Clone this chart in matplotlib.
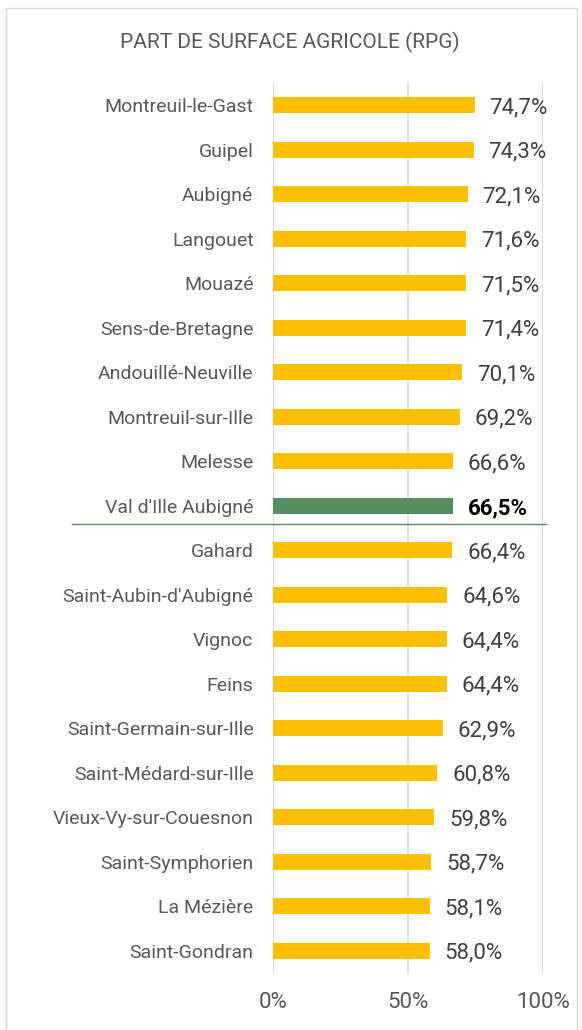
import matplotlib.pyplot as plt
from matplotlib.patches import Rectangle
from matplotlib.lines import Line2D

plt.rcParams['font.family'] = ['Roboto', 'DejaVu Sans']

communes = ["Montreuil-le-Gast", "Guipel", "Aubigné", "Langouet", "Mouazé",
            "Sens-de-Bretagne", "Andouillé-Neuville", "Montreuil-sur-Ille",
            "Melesse", "Val d'Ille Aubigné", "Gahard", "Saint-Aubin-d'Aubigné",
            "Vignoc", "Feins", "Saint-Germain-sur-Ille", "Saint-Médard-sur-Ille",
            "Vieux-Vy-sur-Couesnon", "Saint-Symphorien", "La Mézière", "Saint-Gondran"]
parts = [74.7, 74.3, 72.1, 71.6, 71.5, 71.4, 70.1, 69.2, 66.6, 66.5,
         66.4, 64.6, 64.4, 64.4, 62.9, 60.8, 59.8, 58.7, 58.1, 58.0]
highlight = "Val d'Ille Aubigné"

W, H = 582, 1030
fig = plt.figure(figsize=(W / 100, H / 100), dpi=100)
ax = fig.add_axes([273 / W, 1 - 973 / H, 270 / W, 890 / H])

ypos = list(range(len(communes)))
colors = ['#568F5F' if c == highlight else '#FFC000' for c in communes]
ax.barh(ypos, parts, height=0.36, color=colors, zorder=3)

for y, v, c in zip(ypos, parts, communes):
    bold = c == highlight
    ax.text(v + 5.5, y + 0.05, f"{v:.1f}%".replace('.', ','), va='center', ha='left',
            fontsize=16, color='black' if bold else '#404040',
            fontweight='bold' if bold else 'normal')

ax.set_xlim(0, 100)
ax.set_ylim(len(communes) - 0.5, -0.5)
ax.set_yticks(ypos)
ax.set_yticklabels(communes, fontsize=14, color='#595959')
ax.set_xticks([0, 50, 100])
ax.set_xticklabels(['0%', '50%', '100%'], fontsize=16, color='#595959')
ax.tick_params(length=0, axis='y', pad=14)
ax.tick_params(length=0, axis='x', pad=14)
ax.grid(axis='x', color='#D9D9D9', linewidth=1.2, zorder=0)
for s in ax.spines.values():
    s.set_visible(False)

# separator under the Val d'Ille line
idx = communes.index(highlight)
ax.add_line(Line2D([(72 - 273) / 270 * 100, 101], [idx + 0.4, idx + 0.4],
                   color='#568F5F', linewidth=1, clip_on=False, zorder=4))

fig.text(290 / W, 1 - 42 / H, "PART DE SURFACE AGRICOLE (RPG)", ha='center',
         va='center', fontsize=15, color='#595959')

fig.patches.append(Rectangle((6 / W, -0.01), (577 - 6) / W, 1 - 8 / H + 0.01,
                             transform=fig.transFigure, fill=False,
                             edgecolor='#D9D9D9', linewidth=1))

fig.savefig('out.png', dpi=100)
